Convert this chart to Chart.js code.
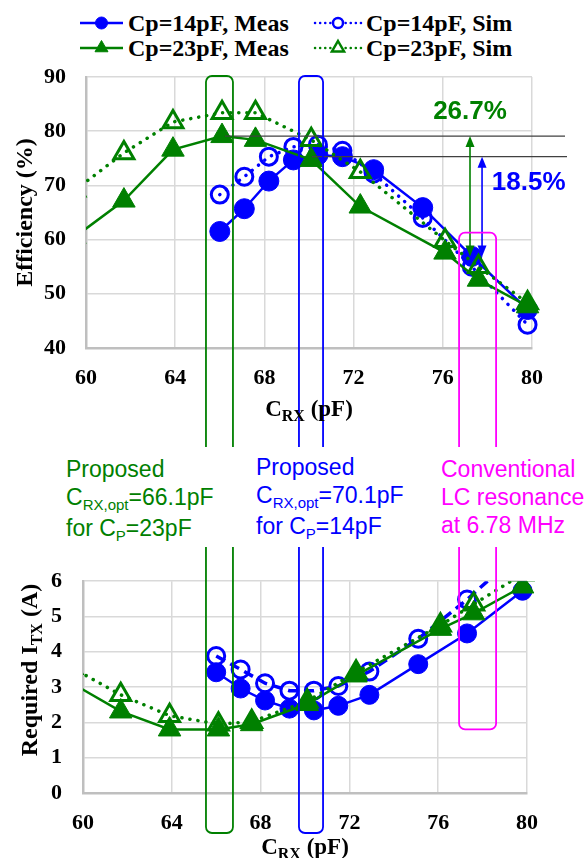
<!DOCTYPE html>
<html>
<head>
<meta charset="utf-8">
<script src="https://cdn.jsdelivr.net/npm/chart.js"></script>
<style>
  html, body { margin: 0; padding: 0; background: #fff; }
  #page { position: relative; width: 587px; height: 858px; overflow: hidden; }
  canvas.chart { position: absolute; left: 0; }
  #effChart { top: 0; }
  #itxChart { top: 547px; }
  .serif { font-family: 'Liberation Serif', 'Times New Roman', serif; font-weight: bold; color: #000; }
  .sans { font-family: 'Liberation Sans', Arial, sans-serif; }
  .legend-text { position: absolute; font-size: 24px; line-height: 26px; white-space: nowrap; }
  .legend-icon { position: absolute; }
  .note { position: absolute; font-size: 23px; line-height: 28px; white-space: nowrap; }
  .sub { font-size: 15px; position: relative; top: 5px; }
  .xtitle { position: absolute; text-align: center; font-size: 23px; line-height: 26px; white-space: nowrap; }
  .xtitle .sub { font-size: 16px; }
  .ytitle { position: absolute; width: 220px; height: 26px; text-align: center; font-size: 24px; line-height: 26px;
            transform: rotate(-90deg); white-space: nowrap; }
  .ytitle .sub { font-size: 16px; }
</style>
</head>
<body>
<div id="page">
  <div id="legend"></div>
  <canvas id="effChart" class="chart" width="587" height="447"></canvas>
  <canvas id="itxChart" class="chart" width="587" height="311"></canvas>

  <div class="xtitle serif" style="left:86px; width:446px; top:396px;">C<span class="sub">RX</span> (pF)</div>
  <div class="xtitle serif" style="left:83px; width:444px; top:834px;">C<span class="sub">RX</span> (pF)</div>
  <div class="ytitle serif" style="left:-81px; top:657px;">Required I<span class="sub">TX</span> (A)</div>

  <div class="note sans" style="left:66px; top:455px; color:#008000;">Proposed<br>C<span class="sub">RX,opt</span>=66.1pF<br>for C<span class="sub">P</span>=23pF</div>
  <div class="note sans" style="left:256px; top:453px; color:#0000ff;">Proposed<br>C<span class="sub">RX,opt</span>=70.1pF<br>for C<span class="sub">P</span>=14pF</div>
  <div class="note sans" style="left:441px; top:455px; color:#ff00ff;">Conventional<br>LC resonance<br>at 6.78 MHz</div>
</div>

<script>
// ---- data ----
const capRx14 = [66.0, 67.1, 68.2, 69.3, 70.4, 71.5, 72.9, 75.1, 77.3, 79.8];
const capRx23 = [59.5, 61.7, 63.9, 66.1, 67.6, 70.1, 72.3, 76.1, 77.6, 79.8];

const eff14Meas = [61.5, 65.7, 70.8, 74.7, 75.6, 75.3, 72.9, 65.9, 56.9, 47.1];
const eff14Sim  = [68.3, 71.6, 75.3, 77.1, 77.5, 76.4, 72.2, 64.0, 55.0, 44.3];
const eff23Meas = [60.5, 67.2, 76.6, 79.1, 78.4, 74.7, 66.1, 57.6, 52.6, 47.7];
const eff23Sim  = [69.1, 76.0, 81.7, 83.4, 83.4, 78.4, 72.5, 59.8, 55.0, 48.3];

const itx14Meas = [3.42, 2.96, 2.62, 2.39, 2.34, 2.47, 2.78, 3.65, 4.52, 5.73];
const itx14Sim  = [3.88, 3.50, 3.11, 2.90, 2.90, 3.03, 3.44, 4.37, 5.48, 6.90];
const itx23Meas = [3.11, 2.31, 1.80, 1.80, 1.95, 2.52, 3.33, 4.65, 5.09, 5.85];
const itx23Sim  = [3.55, 2.78, 2.19, 1.95, 2.02, 2.60, 3.42, 4.75, 5.35, 6.20];

const xTicks   = [60, 64, 68, 72, 76, 80];
const effTicks = [40, 50, 60, 70, 80, 90];
const itxTicks = [0, 1, 2, 3, 4, 5, 6];

// annotations (in data units)
const effPeak23 = 79.1, effPeak14 = 75.3, effConv = 56.9;
const gainLabels = [
  {text: '26.7%', x: 77.22, y: 83.6, color: '#008000', align: 'center'},
  {text: '18.5%', x: 78.2, y: 70.5, color: '#0000ff', align: 'left'}
];
const optBoxes = [
  {from: 65.38, to: 66.59, color: '#008000'},
  {from: 69.55, to: 70.63, color: '#0000ff'}
];
const convBox = {from: 76.73, to: 78.39, effTop: 61.3, itxBottom: 1.8, color: '#ff00ff'};

const GREEN = '#008000', BLUE = '#0000ff';
const SERIF = "'Liberation Serif', 'Times New Roman', serif";
const SANS = "'Liberation Sans', Arial, sans-serif";

function series(xs, ys) {
  return xs.map((x, i) => ({x: x, y: ys[i]}));
}

function meas(label, color, shape, data, radius) {
  return {
    label, data, borderColor: color, backgroundColor: color,
    borderWidth: 2.5, tension: 0,
    pointStyle: shape, pointRadius: radius, pointBorderWidth: 1,
    pointBackgroundColor: color, pointBorderColor: color
  };
}

function sim(label, color, shape, data, radius, dash, cap) {
  return {
    label, data, borderColor: color, backgroundColor: color,
    borderWidth: 3.5, borderDash: dash, borderCapStyle: cap, tension: 0,
    pointStyle: shape, pointRadius: radius, pointBorderWidth: 3,
    pointBackgroundColor: 'rgba(0,0,0,0)', pointBorderColor: color
  };
}

function axisFont(size) {
  return {family: SERIF, size: size, weight: 'bold', lineHeight: 1.2};
}

function roundedPart(ctx, x1, x2, yEdge, yOpen, r, color) {
  // three sides of a rounded box: closed edge at yEdge, open towards yOpen
  const dir = yOpen > yEdge ? 1 : -1;
  ctx.save();
  ctx.strokeStyle = color;
  ctx.lineWidth = 1.8;
  ctx.beginPath();
  ctx.moveTo(x1, yOpen);
  ctx.lineTo(x1, yEdge + dir * r);
  ctx.arcTo(x1, yEdge, x1 + r, yEdge, r);
  ctx.lineTo(x2 - r, yEdge);
  ctx.arcTo(x2, yEdge, x2, yEdge + dir * r, r);
  ctx.lineTo(x2, yOpen);
  ctx.stroke();
  ctx.restore();
}

function arrowHead(ctx, x, tipY, dir) {
  ctx.beginPath();
  ctx.moveTo(x, tipY);
  ctx.lineTo(x - 4.5, tipY + dir * 11);
  ctx.lineTo(x + 4.5, tipY + dir * 11);
  ctx.closePath();
  ctx.fill();
}

function doubleArrow(ctx, x, yLow, yHigh, color) {
  ctx.save();
  ctx.strokeStyle = color;
  ctx.fillStyle = color;
  ctx.lineWidth = 1.6;
  ctx.beginPath();
  ctx.moveTo(x, yLow - 8);
  ctx.lineTo(x, yHigh + 8);
  ctx.stroke();
  arrowHead(ctx, x, yHigh, 1);
  arrowHead(ctx, x, yLow, -1);
  ctx.restore();
}

let effChart;

const effAnnotations = {
  id: 'effAnnotations',
  afterDatasetsDraw(chart) {
    const {ctx, chartArea, scales: {x, y}} = chart;
    ctx.save();
    // reference lines at the optimum efficiencies
    ctx.strokeStyle = '#404040';
    ctx.lineWidth = 1.3;
    [[66.23, effPeak23, 33], [70.13, effPeak14, 35]].forEach(([from, v, over]) => {
      const py = y.getPixelForValue(v);
      ctx.beginPath();
      ctx.moveTo(x.getPixelForValue(from), py);
      ctx.lineTo(chartArea.right + over, py);
      ctx.stroke();
    });
    ctx.restore();

    doubleArrow(ctx, x.getPixelForValue(77.22), y.getPixelForValue(effConv), y.getPixelForValue(effPeak23), GREEN);
    doubleArrow(ctx, x.getPixelForValue(77.76), y.getPixelForValue(effConv), y.getPixelForValue(effPeak14), BLUE);

    ctx.save();
    ctx.font = 'bold 26px ' + SANS;
    ctx.textBaseline = 'middle';
    gainLabels.forEach(l => {
      ctx.fillStyle = l.color;
      ctx.textAlign = l.align;
      ctx.fillText(l.text, x.getPixelForValue(l.x), y.getPixelForValue(l.y));
    });
    ctx.restore();

    // vertical highlight boxes (upper part)
    optBoxes.forEach(b => {
      roundedPart(ctx, x.getPixelForValue(b.from), x.getPixelForValue(b.to), chartArea.top - 1, chart.height + 2, 6, b.color);
    });
    roundedPart(ctx, x.getPixelForValue(convBox.from), x.getPixelForValue(convBox.to),
      y.getPixelForValue(convBox.effTop), chart.height + 2, 6, convBox.color);
  }
};

const itxAnnotations = {
  id: 'itxAnnotations',
  afterDatasetsDraw(chart) {
    const {ctx, chartArea, scales: {y}} = chart;
    const topX = effChart.scales.x; // boxes are shared with the upper plot
    optBoxes.forEach(b => {
      roundedPart(ctx, topX.getPixelForValue(b.from), topX.getPixelForValue(b.to), chartArea.bottom + 40, -2, 6, b.color);
    });
    roundedPart(ctx, topX.getPixelForValue(convBox.from), topX.getPixelForValue(convBox.to),
      y.getPixelForValue(convBox.itxBottom), -2, 6, convBox.color);
  }
};

function baseOptions(yTicks, opts) {
  return {
    responsive: false,
    animation: false,
    events: [],
    layout: {padding: opts.padding},
    plugins: {legend: {display: false}, tooltip: {enabled: false}},
    scales: {
      x: {
        type: 'linear',
        min: xTicks[0], max: xTicks[xTicks.length - 1],
        afterBuildTicks: s => { s.ticks = xTicks.map(v => ({value: v})); },
        afterFit: s => { s.height = opts.xHeight; },
        grid: {color: '#d9d9d9', lineWidth: 1.5, drawTicks: false},
        border: {color: '#bfbfbf', width: 2.5},
        ticks: {font: axisFont(22), color: '#000', padding: 17, maxRotation: 0}
      },
      y: {
        min: yTicks[0], max: yTicks[yTicks.length - 1],
        afterBuildTicks: s => { s.ticks = yTicks.map(v => ({value: v})); },
        afterFit: s => { s.width = opts.yWidth; },
        grid: {color: '#d9d9d9', lineWidth: 1.5, drawTicks: false},
        border: {color: '#bfbfbf', width: 2.5},
        ticks: {font: axisFont(22), color: '#000', padding: opts.yPad},
        title: opts.yTitle
      }
    }
  };
}

// ---- efficiency plot ----
const effClip = {left: 0, right: 15, top: 15, bottom: 15};
const effDatasets = [
  meas('Cp=23pF, Meas', GREEN, 'triangle', series(capRx23, eff23Meas), 13),
  sim('Cp=23pF, Sim', GREEN, 'triangle', series(capRx23, eff23Sim), 11.5, [0.1, 8], 'round'),
  meas('Cp=14pF, Meas', BLUE, 'circle', series(capRx14, eff14Meas), 10),
  sim('Cp=14pF, Sim', BLUE, 'circle', series(capRx14, eff14Sim), 8.5, [0.1, 8], 'round')
].map(d => Object.assign(d, {clip: effClip}));

effChart = new Chart(document.getElementById('effChart'), {
  type: 'line',
  data: {datasets: effDatasets},
  options: baseOptions(effTicks, {
    padding: {top: 77, right: 55, bottom: 0, left: 0},
    xHeight: 99, yWidth: 86, yPad: 20,
    yTitle: {display: true, text: 'Efficiency (%)', color: '#000', font: axisFont(24), padding: {top: 11, bottom: 0}}
  }),
  plugins: [effAnnotations]
});

// ---- required TX current plot ----
const itxClip = {left: 0, right: 15, top: 0, bottom: 15};
const itxDatasets = [
  meas('Cp=23pF, Meas', GREEN, 'triangle', series(capRx23, itx23Meas), 13),
  sim('Cp=23pF, Sim', GREEN, 'triangle', series(capRx23, itx23Sim), 11.5, [0.1, 8], 'round'),
  meas('Cp=14pF, Meas', BLUE, 'circle', series(capRx14, itx14Meas), 9.5),
  sim('Cp=14pF, Sim', BLUE, 'circle', series(capRx14, itx14Sim), 8.5, [10, 6], 'butt')
].map(d => Object.assign(d, {clip: itxClip}));

new Chart(document.getElementById('itxChart'), {
  type: 'line',
  data: {datasets: itxDatasets},
  options: baseOptions(itxTicks, {
    padding: {top: 13, right: 60, bottom: 0, left: 0},
    xHeight: 65, yWidth: 83, yPad: 21,
    yTitle: {display: false}
  }),
  plugins: [itxAnnotations]
});

// ---- legend (line + marker icons, two rows) ----
const legendLayout = [
  {ds: effDatasets[2], col: 80, row: 23, len: 43, r: 6},
  {ds: effDatasets[3], col: 315, row: 23, len: 46, r: 5},
  {ds: effDatasets[0], col: 80, row: 48, len: 43, r: 7.5},
  {ds: effDatasets[1], col: 315, row: 48, len: 46, r: 7}
];
const legendBox = document.getElementById('legend');
legendLayout.forEach(item => {
  const ds = item.ds;
  const c = document.createElement('canvas');
  c.width = item.len + 4; c.height = 24;
  c.className = 'legend-icon';
  c.style.left = (item.col - 2) + 'px';
  c.style.top = (item.row - 12) + 'px';
  const g = c.getContext('2d');
  g.strokeStyle = ds.borderColor;
  g.lineWidth = 2.5;
  if (ds.pointBackgroundColor !== ds.borderColor) { g.setLineDash([0.1, 5]); g.lineCap = 'round'; }
  g.beginPath(); g.moveTo(2, 12); g.lineTo(2 + item.len, 12); g.stroke();
  g.setLineDash([]);
  const cx = 2 + item.len / 2, cy = 12, r = item.r;
  const open = ds.pointBackgroundColor !== ds.borderColor;
  g.beginPath();
  if (ds.pointStyle === 'circle') {
    g.arc(cx, cy, r, 0, Math.PI * 2);
  } else {
    g.moveTo(cx, cy - r);
    g.lineTo(cx + r * 0.866, cy + r * 0.5);
    g.lineTo(cx - r * 0.866, cy + r * 0.5);
    g.closePath();
  }
  g.fillStyle = open ? '#fff' : ds.borderColor;
  g.fill();
  g.lineWidth = open ? 2.5 : 1;
  g.stroke();
  legendBox.appendChild(c);

  const t = document.createElement('div');
  t.className = 'legend-text serif';
  t.style.left = (item.col + item.len + 5) + 'px';
  t.style.top = (item.row - 13) + 'px';
  t.textContent = ds.label;
  legendBox.appendChild(t);
});
</script>
</body>
</html>
